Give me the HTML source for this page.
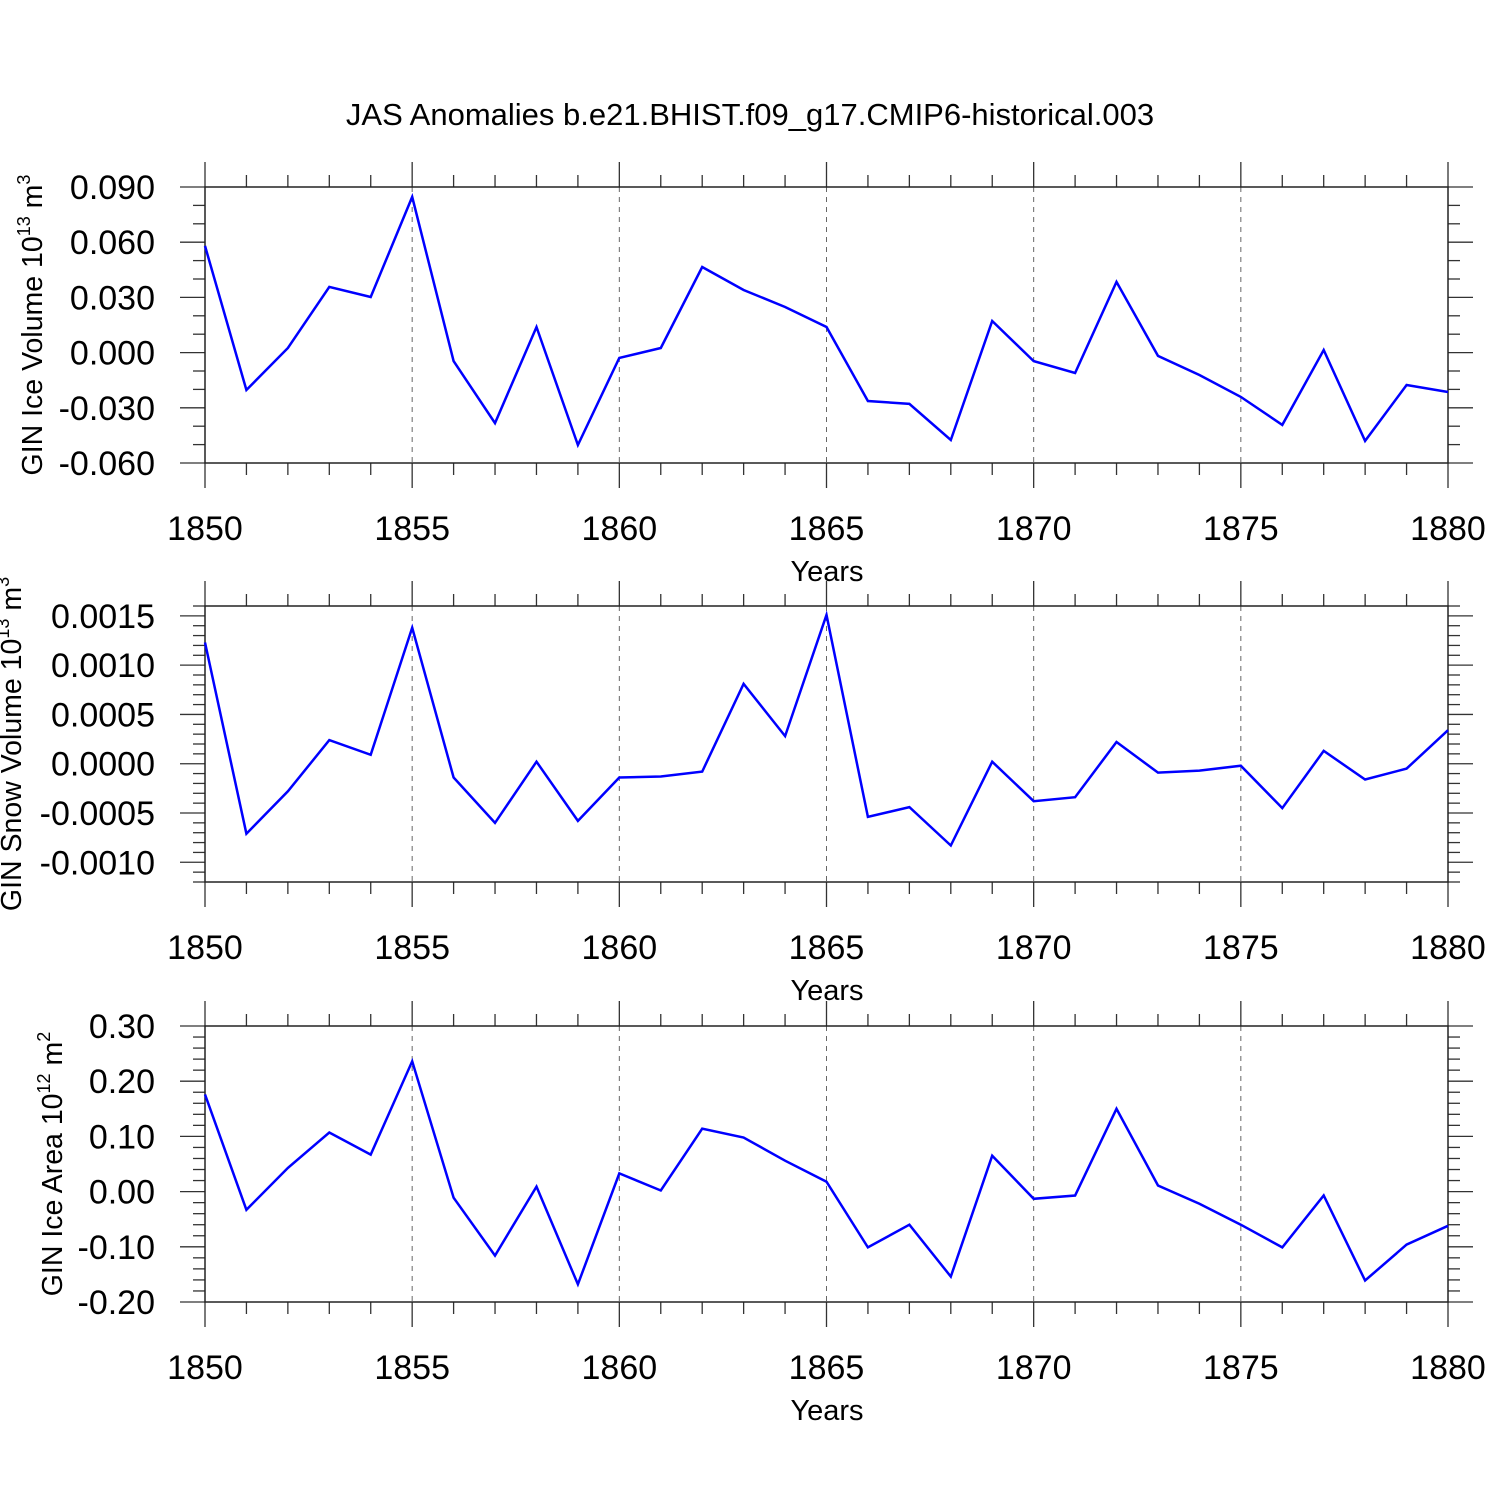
<!DOCTYPE html>
<html><head><meta charset="utf-8"><style>body{margin:0;background:#fff}svg{display:block}text{font-family:"Liberation Sans",sans-serif;fill:#000}</style></head>
<body>
<svg id="chart" width="1500" height="1500" xmlns="http://www.w3.org/2000/svg">
<text x="750" y="125" font-size="31" text-anchor="middle">JAS Anomalies b.e21.BHIST.f09_g17.CMIP6-historical.003</text>
</svg>
<script>
const years = [1850,1851,1852,1853,1854,1855,1856,1857,1858,1859,1860,1861,1862,1863,1864,1865,1866,1867,1868,1869,1870,1871,1872,1873,1874,1875,1876,1877,1878,1879,1880];
const iceVolume = [0.058,-0.0203,0.0025,0.0357,0.0302,0.0846,-0.0046,-0.0383,0.0139,-0.0502,-0.0029,0.0025,0.0465,0.034,0.0248,0.0139,-0.0263,-0.0279,-0.0475,0.0172,-0.0046,-0.0111,0.0384,-0.0018,-0.0122,-0.0241,-0.0393,0.0014,-0.048,-0.0176,-0.0214];
const snowVolume = [0.00123,-0.00071,-0.00028,0.00024,0.00009,0.00138,-0.00014,-0.0006,0.00002,-0.00058,-0.00014,-0.00013,-0.00008,0.00081,0.00028,0.00151,-0.00054,-0.00044,-0.00083,0.00002,-0.00038,-0.00034,0.00022,-0.00009,-0.00007,-0.00002,-0.00045,0.00013,-0.00016,-0.00005,0.00034];
const iceArea = [0.176,-0.033,0.043,0.107,0.067,0.236,-0.011,-0.116,0.009,-0.168,0.033,0.002,0.114,0.098,0.056,0.018,-0.101,-0.06,-0.154,0.065,-0.013,-0.007,0.15,0.011,-0.022,-0.06,-0.101,-0.007,-0.161,-0.096,-0.062];
const xTicks = [1850,1855,1860,1865,1870,1875,1880];
const iceVolTicks = [0.09,0.06,0.03,0,-0.03,-0.06];
const snowTicks = [0.0015,0.001,0.0005,0,-0.0005,-0.001];
const areaTicks = [0.3,0.2,0.1,0,-0.1,-0.2];

const svg = document.getElementById('chart');
const NS = 'http://www.w3.org/2000/svg';
function mk(tag, attrs, parent){const e=document.createElementNS(NS,tag);for(const k in attrs)e.setAttribute(k,attrs[k]);(parent||svg).appendChild(e);return e;}
const X0=205,X1=1448;
function xs(y){return X0+(y-1850)/30*(X1-X0);}

function panel(cfg){
  const g=mk('g',{});
  
  
  const top=cfg.top,bot=cfg.top+276;
  const ys=v=>top+(cfg.ymax-v)/(cfg.ymax-cfg.ymin)*276;
  xTicks.slice(1,-1).forEach(t=>{const l=mk('line',{x1:xs(t),x2:xs(t),y1:top,y2:bot,stroke:'#666','stroke-width':1,'stroke-dasharray':'5,5'},g);
    
    });
  for(let y=1850;y<=1880;y++){const len=(y%5===0)?25:12;
    mk('line',{x1:xs(y),x2:xs(y),y1:top-len,y2:top,stroke:'#333','stroke-width':1.3},g);
    mk('line',{x1:xs(y),x2:xs(y),y1:bot,y2:bot+len,stroke:'#333','stroke-width':1.3},g);}
  const n=Math.round((cfg.ymax-cfg.ymin)/cfg.minor);
  for(let i=0;i<=n;i++){const v=cfg.ymin+i*cfg.minor;const major=Math.abs(Math.round(v/cfg.major)*cfg.major-v)<cfg.minor/10;
    const py=ys(v);const len=major?25:12;
    mk('line',{x1:X0-len,x2:X0,y1:py,y2:py,stroke:'#333','stroke-width':1.3},g);
    mk('line',{x1:X1,x2:X1+len,y1:py,y2:py,stroke:'#333','stroke-width':1.3},g);}
  const fr=mk('rect',{x:X0,y:top,width:X1-X0,height:276,fill:'none',stroke:'#222','stroke-width':1.5},g);
  
  
  cfg.ticks.forEach((t,i)=>{const tx=mk('text',{x:155,y:ys(t)+12,'font-size':34,'text-anchor':'end'},g);tx.textContent=cfg.labels[i];
    
    });
  xTicks.forEach(t=>{const tx=mk('text',{x:xs(t),y:bot+77,'font-size':34,'text-anchor':'middle'},g);tx.textContent=t;
    
    });
  const xt=mk('text',{x:827,y:bot+118,'font-size':29,'text-anchor':'middle'},g);xt.textContent='Years';
  
  
  const yt=mk('text',{transform:`translate(${cfg.tx},${cfg.ty}) rotate(-90)`,'font-size':28.5,'text-anchor':'middle'},g);
  yt.innerHTML=cfg.title;
  
  
  const pts=years.map((y,i)=>xs(y).toFixed(1)+','+ys(cfg.data[i]).toFixed(1)).join(' ');
  const pl=mk('polyline',{points:pts,fill:'none',stroke:'#0000ff','stroke-width':2.5,'stroke-linejoin':'miter'},g);
  
  
}
panel({name:'ice-volume-panel',top:187,ymax:0.09,ymin:-0.06,major:0.03,minor:0.01,ticks:iceVolTicks,labels:['0.090','0.060','0.030','0.000','-0.030','-0.060'],data:iceVolume,tx:42,ty:325,
  title:'GIN Ice Volume 10<tspan dy="-12" font-size="18">13</tspan><tspan dy="12"> m</tspan><tspan dy="-12" font-size="18">3</tspan>'});
panel({name:'snow-volume-panel',top:606,ymax:0.0016,ymin:-0.0012,major:0.0005,minor:0.0001,ticks:snowTicks,labels:['0.0015','0.0010','0.0005','0.0000','-0.0005','-0.0010'],data:snowVolume,tx:21,ty:744,
  title:'GIN Snow Volume 10<tspan dy="-12" font-size="18">13</tspan><tspan dy="12"> m</tspan><tspan dy="-12" font-size="18">3</tspan>'});
panel({name:'ice-area-panel',top:1026,ymax:0.3,ymin:-0.2,major:0.1,minor:0.02,ticks:areaTicks,labels:['0.30','0.20','0.10','0.00','-0.10','-0.20'],data:iceArea,tx:62,ty:1164,
  title:'GIN Ice Area 10<tspan dy="-12" font-size="18">12</tspan><tspan dy="12"> m</tspan><tspan dy="-12" font-size="18">2</tspan>'});
</script>
</body></html>
